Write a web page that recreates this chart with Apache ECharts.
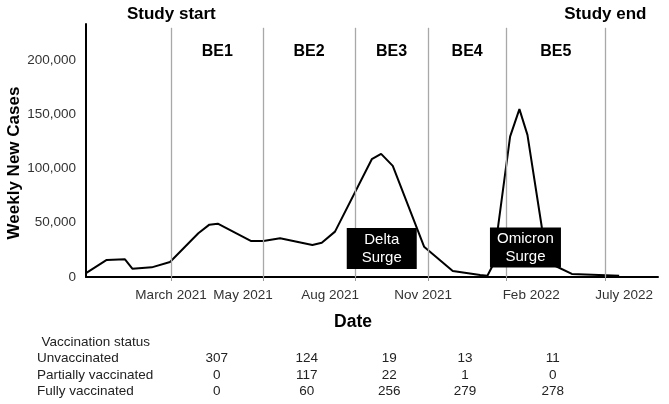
<!DOCTYPE html>
<html>
<head>
<meta charset="utf-8">
<script src="https://cdn.jsdelivr.net/npm/echarts@6/dist/echarts.min.js"></script>
<style>
html,body{margin:0;padding:0;background:#fff;}
#chart{width:669px;height:404px;}
</style>
</head>
<body>
<div id="chart"></div>
<script>
// ---- data ----
// x: study week index, y: weekly new cases
var weeks = [0, 2.91, 5.48, 6.51, 9.24, 11.81, 15.79, 17.34, 18.52, 23.16, 24.93, 27.28, 31.82, 33.14, 35.0, 40.17, 41.48, 43.12, 47.52, 51.55, 55.4, 56.42, 57.2, 59.61, 60.92, 62.05, 64.07, 65.1, 68.29, 74.94];
var cases = [3500, 15700, 16300, 7700, 8900, 13800, 40300, 48200, 49100, 33200, 33200, 35700, 29500, 31600, 41800, 108500, 113400, 102300, 27900, 5500, 1800, 1200, 11000, 129300, 154600, 130900, 45800, 12900, 2800, 1200];

// period boundaries (weeks) and names
var boundaryWeeks = [12, 24.9, 37.8, 48.1, 59.05, 73];
var boundaryNames = ['Study start', '', '', '', '', 'Study end'];
var periodNames = ['BE1', 'BE2', 'BE3', 'BE4', 'BE5'];

// x-axis tick labels
var tickLabelWeeks = [11.95, 22.07, 34.31, 47.4, 62.57, 75.65];
var tickLabels = ['March 2021', 'May 2021', 'Aug 2021', 'Nov 2021', 'Feb 2022', 'July 2022'];

// surge annotations
var surgeNames = ['Delta\nSurge', 'Omicron\nSurge'];
var surgeWeeks = [41.57, 61.77];
var surgeCases = [26300, 27200];

// y-axis ticks
var yTicks = [0, 50000, 100000, 150000, 200000];

// vaccination table
var vaxRows = ['Unvaccinated', 'Partially vaccinated', 'Fully vaccinated'];
var unvaccinated = [307, 124, 19, 13, 11];
var partiallyVaccinated = [0, 117, 22, 1, 0];
var fullyVaccinated = [0, 60, 256, 279, 278];

// ---- chart ----
var FONT = "'Liberation Sans', Arial, Helvetica, sans-serif";
var chart = echarts.init(document.getElementById('chart'), null, {renderer: 'canvas'});

var lineData = weeks.map(function (w, i) { return [w, cases[i]]; });
var TOP_LINE = 229500;

var markLineData = boundaryWeeks.map(function (w, i) {
  return [
    {coord: [w, 0]},
    {coord: [w, TOP_LINE], name: boundaryNames[i],
     label: {show: boundaryNames[i] !== ''}}
  ];
});
var markAreaData = periodNames.map(function (n, i) {
  return [{xAxis: boundaryWeeks[i], name: n}, {xAxis: boundaryWeeks[i + 1]}];
});
var markPointData = surgeNames.map(function (n, i) {
  return {coord: [surgeWeeks[i], surgeCases[i]], value: n,
          symbolSize: i === 0 ? [70, 41] : [71, 40]};
});

var colX = [216.7, 306.7, 389.3, 465, 552.7];
var rowY = [358, 375, 391.5];
var tableVals = [unvaccinated, partiallyVaccinated, fullyVaccinated];
var graphics = [];
graphics.push({type: 'text', x: 41.5, y: 342,
  style: {text: 'Vaccination status', font: '13.5px ' + FONT, fill: '#222', verticalAlign: 'middle'}});
vaxRows.forEach(function (r, ri) {
  graphics.push({type: 'text', x: 37, y: rowY[ri],
    style: {text: r, font: '13.5px ' + FONT, fill: '#222', verticalAlign: 'middle'}});
  tableVals[ri].forEach(function (v, ci) {
    graphics.push({type: 'text', x: colX[ci], y: rowY[ri],
      style: {text: String(v), font: '13.5px ' + FONT, fill: '#222', align: 'center', verticalAlign: 'middle'}});
  });
});
graphics.push({type: 'text', x: 353, y: 322,
  style: {text: 'Date', font: 'bold 17.5px ' + FONT, fill: '#000', align: 'center', verticalAlign: 'middle'}});
graphics.push({type: 'text', x: 14, y: 163, rotation: Math.PI / 2,
  style: {text: 'Weekly New Cases', font: 'bold 17px ' + FONT, fill: '#000', align: 'center', verticalAlign: 'middle'}});

chart.setOption({
  animation: false,
  backgroundColor: '#fff',
  grid: {left: 86, right: 11, top: 24, bottom: 127, containLabel: false},
  xAxis: {
    type: 'value', min: 0, max: 80.4, offset: 5,
    axisLine: {show: true, lineStyle: {color: '#000', width: 2}},
    axisTick: {show: true, customValues: boundaryWeeks, length: 4, inside: false,
               lineStyle: {color: '#999', width: 1}},
    axisLabel: {show: true, customValues: tickLabelWeeks, margin: 6,
      color: '#333', fontFamily: FONT, fontSize: 13.5,
      formatter: function (v) {
        var best = 0, d = 1e9;
        tickLabelWeeks.forEach(function (t, i) { if (Math.abs(t - v) < d) { d = Math.abs(t - v); best = i; } });
        return tickLabels[best];
      }},
    splitLine: {show: false}
  },
  yAxis: {
    type: 'value', min: 0, max: 233000, interval: 50000,
    axisLine: {show: true, lineStyle: {color: '#000', width: 2}},
    axisTick: {show: false},
    splitLine: {show: false},
    axisLabel: {show: true, customValues: yTicks, margin: 10, color: '#333', fontFamily: FONT, fontSize: 13.5,
      formatter: function (v) { return v.toLocaleString('en-US'); }}
  },
  series: [
    {
      type: 'line', data: [], z: 1, silent: true,
      markLine: {
        silent: true, symbol: 'none', animation: false,
        lineStyle: {color: '#a8a8a8', width: 1.3, type: 'solid'},
        label: {position: 'end', distance: 5, formatter: '{b}', color: '#000',
                fontFamily: FONT, fontWeight: 'bold', fontSize: 17},
        data: markLineData
      },
      markArea: {
        silent: true,
        itemStyle: {color: 'rgba(0,0,0,0)'},
        label: {show: true, position: 'insideTop', distance: 20, color: '#000',
                fontFamily: FONT, fontWeight: 'bold', fontSize: 16},
        data: markAreaData
      }
    },
    {
      type: 'line', data: lineData, z: 3, symbol: 'none', smooth: false,
      lineStyle: {color: '#000', width: 2}, silent: true
    },
    {
      type: 'line', data: [], z: 5, silent: true,
      markPoint: {
        silent: true, symbol: 'rect',
        itemStyle: {color: '#000'},
        label: {show: true, position: 'inside', formatter: '{c}', color: '#fff',
                fontFamily: FONT, fontSize: 15, lineHeight: 18},
        data: markPointData
      }
    }
  ],
  graphic: graphics
});
</script>
</body>
</html>
